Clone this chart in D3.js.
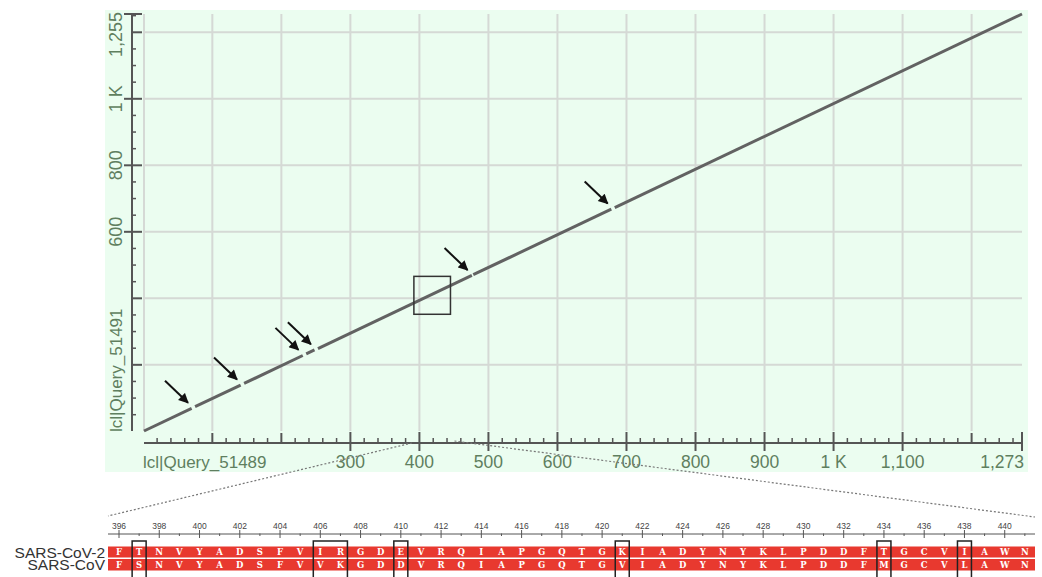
<!DOCTYPE html>
<html>
<head>
<meta charset="utf-8">
<script src="https://cdn.jsdelivr.net/npm/d3@7"></script>
<style>
  html, body { margin: 0; padding: 0; background: #ffffff; }
  svg { display: block; }
</style>
</head>
<body>
<svg id="chart" width="1042" height="577"></svg>
<script>
// ---- Dot-plot data: Query_51489 (x) vs Query_51491 (y) ----
const queryLength = 1273;
const subjectLength = 1255;

// aligned blocks: [queryStart, queryEnd, subjectStart, subjectEnd]
const alignBlocks = [
  [1, 70, 1, 69],
  [75, 141, 74, 139],
  [146, 231, 144, 228],
  [236, 248, 233, 245],
  [253, 476, 249, 469],
  [478, 678, 471, 668],
  [683, 1273, 673, 1255]
];

// arrows point at the breaks (query position, subject position)
const arrowTargetsQ = [72, 143, 232, 250, 477, 680];
const arrowTargetsS = [71, 141, 230, 247, 470, 670];

// x axis ticks
const xMajorTicks = [100, 200, 300, 400, 500, 600, 700, 800, 900, 1000, 1100, 1200];
const xTickLabels = {300: "300", 400: "400", 500: "500", 600: "600", 700: "700",
                     800: "800", 900: "900", 1000: "1 K", 1100: "1,100", 1273: "1,273"};
// y axis ticks
const yMajorTicks = [200, 400, 600, 800, 1000, 1200];
const yTickLabels = {600: "600", 800: "800", 1000: "1 K", 1255: "1,255"};

const xTitle = "lcl|Query_51489";
const yTitle = "lcl|Query_51491";

// zoomed region (query range / subject range)
const zoomQuery = [392, 445];
const zoomSubject = [352, 466];

// ---- Alignment detail ----
const seqStart = 396;
const seqNames = ["SARS-CoV-2", "SARS-CoV"];
const seqCoV2 = "FTNVYADSFVIRGDEVRQIAPGQTGKIADYNYKLPDDFTGCVIAWN";
const seqCoV  = "FSNVYADSFVVKGDDVRQIAPGQTGVIADYNYKLPDDFMGCVLAWN";
// boxed differences: [firstPos, lastPos]
const diffBoxes = [[397, 397], [406, 407], [410, 410], [421, 421], [434, 434], [438, 438]];
const rulerLabels = d3.range(396, 441, 2);

// ---- Layout ----
const svg = d3.select("#chart");
const labelColor = "#5f7f5f";
const axisColor = "#555555";
const gridColor = "#d5d9d5";
const labelFont = "Liberation Sans, Arial, sans-serif";

const plot = {left: 144, right: 1022, top: 14, bottom: 431};

const x = d3.scaleLinear().domain([1, queryLength]).range([plot.left, plot.right]);
const y = d3.scaleLinear().domain([1, subjectLength]).range([plot.bottom, plot.top]);

// panel background
svg.append("rect")
  .attr("x", 105).attr("y", 10).attr("width", 923).attr("height", 462)
  .attr("fill", "#ebfdf0");

// grid
const grid = svg.append("g").attr("stroke", gridColor).attr("stroke-width", 2);
grid.selectAll("line.v").data([1].concat(xMajorTicks)).join("line")
  .attr("x1", d => x(d)).attr("x2", d => x(d))
  .attr("y1", plot.top).attr("y2", plot.bottom);
grid.selectAll("line.h").data(yMajorTicks).join("line")
  .attr("x1", plot.left).attr("x2", plot.right)
  .attr("y1", d => y(d)).attr("y2", d => y(d));

// ---- x axis ----
const xAxisY = 443;
const xa = svg.append("g");
xa.append("line").attr("x1", x(1)).attr("x2", x(queryLength))
  .attr("y1", xAxisY).attr("y2", xAxisY)
  .attr("stroke", axisColor).attr("stroke-width", 2);
const xMinor = d3.range(20, queryLength, 20).filter(v => v % 100 !== 0);
xa.selectAll("line.minor").data(xMinor).join("line")
  .attr("x1", d => x(d)).attr("x2", d => x(d))
  .attr("y1", xAxisY - 5).attr("y2", xAxisY)
  .attr("stroke", axisColor).attr("stroke-width", 1.5);
const xLabeled = Object.keys(xTickLabels).map(Number);
xa.selectAll("line.major").data(xMajorTicks.concat([queryLength])).join("line")
  .attr("x1", d => x(d)).attr("x2", d => x(d))
  .attr("y1", d => xLabeled.includes(d) ? xAxisY - 11 : xAxisY - 10)
  .attr("y2", d => xLabeled.includes(d) ? xAxisY + 8 : xAxisY)
  .attr("stroke", axisColor).attr("stroke-width", 2);
xa.selectAll("text").data(xLabeled).join("text")
  .attr("x", d => d === queryLength ? x(d) + 2 : x(d))
  .attr("y", 468)
  .attr("text-anchor", d => d === queryLength ? "end" : "middle")
  .attr("font-family", labelFont)
  .attr("font-size", 17.5).attr("fill", labelColor)
  .text(d => xTickLabels[d]);
xa.append("text").attr("x", plot.left - 1).attr("y", 468)
  .attr("font-family", labelFont)
  .attr("font-size", 17).attr("fill", labelColor).text(xTitle);

// ---- y axis ----
const yAxisX = 132;
const ya = svg.append("g");
ya.append("line").attr("x1", yAxisX).attr("x2", yAxisX)
  .attr("y1", y(subjectLength)).attr("y2", y(1))
  .attr("stroke", axisColor).attr("stroke-width", 2);
const yLabeled = Object.keys(yTickLabels).map(Number);
const yMinor = d3.range(50, subjectLength, 50).filter(v => v % 200 !== 0);
ya.selectAll("line.minor").data(yMinor).join("line")
  .attr("x1", yAxisX).attr("x2", yAxisX + 4)
  .attr("y1", d => y(d)).attr("y2", d => y(d))
  .attr("stroke", axisColor).attr("stroke-width", 1.5);
ya.selectAll("line.major").data(yMajorTicks.concat([subjectLength])).join("line")
  .attr("x1", d => yLabeled.includes(d) ? yAxisX - 8 : yAxisX)
  .attr("x2", yAxisX + 10)
  .attr("y1", d => y(d)).attr("y2", d => y(d))
  .attr("stroke", axisColor).attr("stroke-width", 2);
ya.selectAll("text").data(yLabeled).join("text")
  .attr("transform", d => `translate(122,${d === subjectLength ? y(d) - 2 : y(d)}) rotate(-90)`)
  .attr("text-anchor", d => d === subjectLength ? "end" : "middle")
  .attr("font-family", labelFont)
  .attr("font-size", 18).attr("fill", labelColor)
  .text(d => yTickLabels[d]);
ya.append("text")
  .attr("transform", `translate(122,${plot.bottom + 1}) rotate(-90)`)
  .attr("text-anchor", "start")
  .attr("font-family", labelFont)
  .attr("font-size", 17).attr("fill", labelColor).text(yTitle);

// ---- diagonal alignment blocks ----
svg.append("g").selectAll("line").data(alignBlocks).join("line")
  .attr("x1", d => x(d[0])).attr("y1", d => y(d[2]))
  .attr("x2", d => x(d[1])).attr("y2", d => y(d[3]))
  .attr("stroke", "#626262").attr("stroke-width", 3).attr("stroke-linecap", "butt");

// ---- arrows ----
const defs = svg.append("defs");
defs.append("marker").attr("id", "head")
  .attr("viewBox", "0 0 10 10").attr("refX", 9).attr("refY", 5)
  .attr("markerWidth", 5.5).attr("markerHeight", 5)
  .attr("orient", "auto")
  .append("path").attr("d", "M0,0 L10,5 L0,10 Z").attr("fill", "#111");
svg.append("g").selectAll("line").data(arrowTargetsQ).join("line")
  .attr("x1", (d, i) => x(d) - 28).attr("y1", (d, i) => y(arrowTargetsS[i]) - 27)
  .attr("x2", (d, i) => x(d) - 5).attr("y2", (d, i) => y(arrowTargetsS[i]) - 5)
  .attr("stroke", "#111").attr("stroke-width", 2)
  .attr("marker-end", "url(#head)");

// ---- zoom box ----
svg.append("rect")
  .attr("x", x(zoomQuery[0])).attr("y", y(zoomSubject[1]))
  .attr("width", x(zoomQuery[1]) - x(zoomQuery[0]))
  .attr("height", y(zoomSubject[0]) - y(zoomSubject[1]))
  .attr("fill", "none").attr("stroke", "#333").attr("stroke-width", 1.5);

// ---- alignment detail panel ----
const resX = d3.scaleLinear().domain([seqStart, seqStart + seqCoV2.length - 1])
  .range([119, 119 + (seqCoV2.length - 1) * 20.13]);
const panelLeft = 108, panelRight = 1035;

// dotted connectors from the zoom box down to the panel
const conn = svg.append("g").attr("stroke", "#777").attr("stroke-width", 1.2)
  .attr("stroke-dasharray", "2,2");
conn.append("line").attr("x1", x(zoomQuery[0]) - 2).attr("y1", xAxisY)
  .attr("x2", panelLeft).attr("y2", 516);
conn.append("line").attr("x1", x(zoomQuery[1]) + 4).attr("y1", xAxisY - 2)
  .attr("x2", panelRight).attr("y2", 517);

// ruler
const ruler = svg.append("g");
ruler.append("line").attr("x1", panelLeft).attr("x2", panelRight)
  .attr("y1", 534).attr("y2", 534).attr("stroke", "#555").attr("stroke-width", 1);
const positions = d3.range(seqStart, seqStart + seqCoV2.length);
ruler.selectAll("line.t").data(positions).join("line")
  .attr("x1", d => resX(d)).attr("x2", d => resX(d))
  .attr("y1", d => d % 2 === 0 ? 530 : 533.5)
  .attr("y2", d => d % 2 === 0 ? 538 : 536)
  .attr("stroke", "#555").attr("stroke-width", 1);
ruler.selectAll("text").data(rulerLabels).join("text")
  .attr("x", d => resX(d)).attr("y", 528.5)
  .attr("text-anchor", "middle")
  .attr("font-family", labelFont)
  .attr("font-size", 8.5).attr("fill", "#444")
  .text(d => d);

// sequence rows
const seqs = [seqCoV2, seqCoV];
const rowTop = [546.5, 559];
const rowH = [11, 11.5];
seqs.forEach((s, r) => {
  svg.append("rect").attr("x", panelLeft).attr("y", rowTop[r])
    .attr("width", panelRight - panelLeft).attr("height", rowH[r])
    .attr("fill", "#e8392f");
  svg.append("g").selectAll("text").data(s.split("")).join("text")
    .attr("x", (d, i) => resX(seqStart + i)).attr("y", rowTop[r] + rowH[r] / 2 + 3.2)
    .attr("text-anchor", "middle")
    .attr("font-family", "DejaVu Serif, serif")
    .attr("font-size", 8.5).attr("font-weight", "bold").attr("fill", "#fff")
    .text(d => d);
  svg.append("text").attr("x", 105).attr("y", rowTop[r] + rowH[r] / 2 + 5.5)
    .attr("text-anchor", "end")
    .attr("font-family", labelFont)
    .attr("font-size", 15.5).attr("fill", "#333")
    .text(seqNames[r]);
});

// difference boxes
svg.append("g").selectAll("rect").data(diffBoxes).join("rect")
  .attr("x", d => resX(d[0]) - 7)
  .attr("y", 541)
  .attr("width", d => resX(d[1]) - resX(d[0]) + 14)
  .attr("height", 40)
  .attr("fill", "none").attr("stroke", "#222").attr("stroke-width", 1.5);
</script>
</body>
</html>
